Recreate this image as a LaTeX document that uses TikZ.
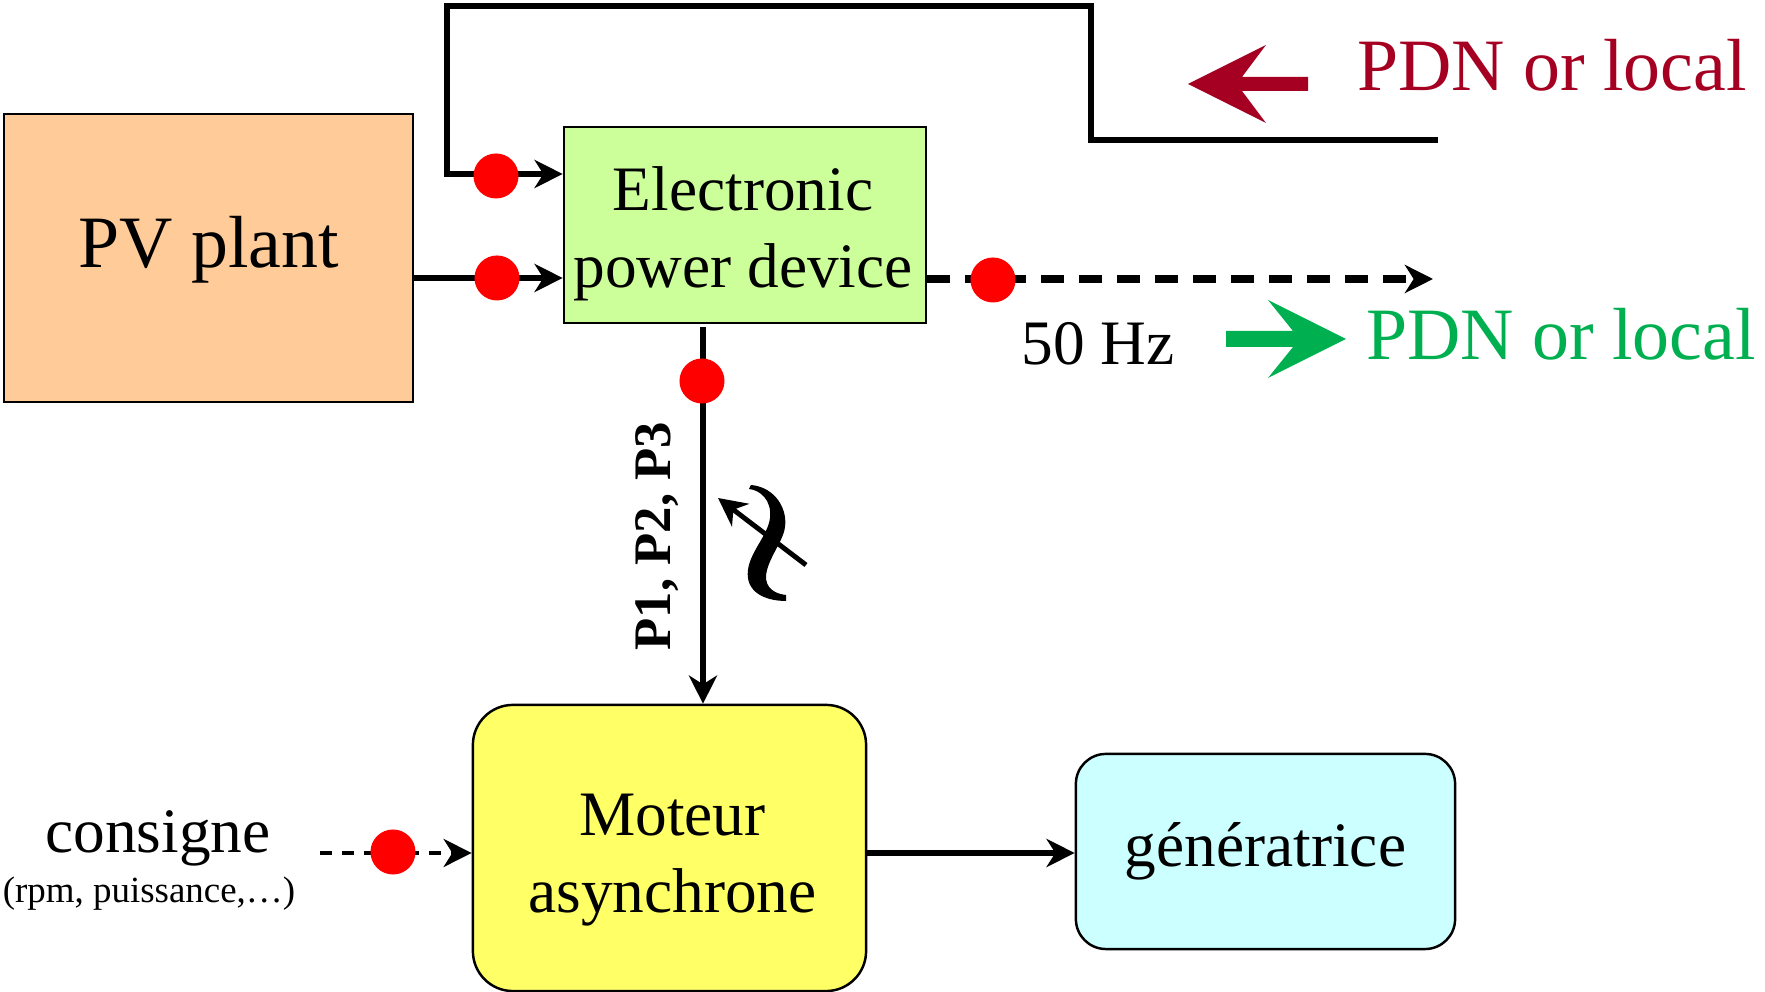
\documentclass[tikz,border=0pt]{standalone}
\usepackage{fontspec}
\setmainfont{Liberation Serif}
\usetikzlibrary{positioning,calc,arrows.meta}

\definecolor{pvorange}{RGB}{255,204,153}
\definecolor{epdgreen}{RGB}{204,255,153}
\definecolor{motyellow}{RGB}{255,255,102}
\definecolor{gencyan}{RGB}{204,255,255}
\definecolor{pdnred}{RGB}{165,0,33}
\definecolor{pdngreen}{RGB}{0,176,80}
\definecolor{dotred}{RGB}{255,0,0}

\begin{document}
\begin{tikzpicture}[x=0.01cm,y=-0.01cm,
    box/.style={draw,line width=0.7pt,inner sep=0pt},
    dot/.style={circle,fill=dotred,inner sep=0pt,minimum size=0.45cm},
    tip/.style={-{Stealth[length=8pt,width=8pt,inset=2.5pt]}},
    txt/.style={align=center,font=\fontsize{18}{22}\selectfont},
    big/.style={anchor=base,font=\fontsize{21}{25}\selectfont}]

    \useasboundingbox (0,0) rectangle (1765,992);

    % blocks
    \node[box,fill=pvorange,minimum width=4.09cm,minimum height=2.88cm](pv) at (208.5,258){};
    \node[box,fill=epdgreen,minimum width=3.62cm,minimum height=1.96cm](epd) at (745,225){};
    \node[box,fill=motyellow,rounded corners=0.4cm,minimum width=3.93cm,minimum height=2.86cm](mot) at (669.5,848){};
    \node[box,fill=gencyan,rounded corners=0.3cm,minimum width=3.79cm,minimum height=1.95cm](gen) at (1265.5,851.5){};

    \node[big](pvtxt) at (208.5,268){PV plant};
    \node[txt](epdtxt) at ($(epd)+(-2,9)$){Electronic\\power device};
    \node[txt](mottxt) at ($(mot)+(3,12)$){Moteur\\asynchrone};
    \node[txt](gentxt) at (gen){génératrice};

    % free ends
    \coordinate (fbin) at (1438,140);
    \coordinate (out) at (1433,279);
    \coordinate (down) at (703,327);
    \coordinate (cs) at (320,853);
    \coordinate (ta) at (806,565);
    \coordinate (tb) at (718,498);

    % connectors
    \draw[line width=1.6pt,tip](fbin) -| (1091,6) -| (447,174) -- (epd.west |- 0,174);
    \draw[line width=1.9pt,tip](pv.east |- 0,278) -- (epd.west |- 0,278);
    \draw[line width=2pt,dash pattern=on 6.5pt off 4.3pt,tip](epd.east |- 0,279) -- (out);
    \draw[line width=1.7pt,tip](down) -- (down |- mot.north);
    \draw[line width=1.9pt,tip](mot.east |- 0,853) -- (gen.west |- 0,853);
    \draw[line width=0.9pt,dash pattern=on 3.4pt off 2.8pt,tip](cs) -- (mot.west |- 0,853);

    % red dots
    \node[dot](d1) at (496,176){};
    \node[dot](d2) at (497,278){};
    \node[dot](d3) at (993,280){};
    \node[dot](d4) at (702,381){};
    \node[dot](d5) at (393,852){};

    % wide arrows
    \fill[pdnred](1188,84) -- (1266,45) -- (1242,77) -- (1308,77) -- (1308,91) -- (1242,91) -- (1266,123) -- cycle;
    \fill[pdngreen](1346,339) -- (1268,300) -- (1293,331) -- (1226,331) -- (1226,347) -- (1293,347) -- (1268,378) -- cycle;

    % labels
    \node[big,text=pdnred](pdnin) at (1552,91){PDN or local};
    \node[big,text=pdngreen](pdnout) at (1561,360){PDN or local};
    \node[big,font=\fontsize{18}{22}\selectfont](hz) at (1098,365){50 Hz};
    \node[big,font=\fontsize{18}{22}\selectfont](cons) at (158,853){consigne};
    \node[anchor=base,font=\fontsize{10.5}{12}\selectfont](consd) at (149,903){(rpm, puissance,…)};
    \node[rotate=90,font=\bfseries\fontsize{15}{18}\selectfont](plab) at (657,536){P1, P2, P3};

    % variable frequency sign
    \fill (751,485) .. controls (775,487) and (790,510) .. (784,532)
        .. controls (780,545) and (768,560) .. (766,575)
        .. controls (765,588) and (775,594) .. (786,595) -- (786,601)
        .. controls (765,601) and (745,592) .. (748,570)
        .. controls (750,552) and (768,535) .. (770,518)
        .. controls (772,500) and (760,490) .. (749,489) -- cycle;
    \draw[line width=1.4pt,tip](ta) -- (tb);

\end{tikzpicture}
\end{document}
